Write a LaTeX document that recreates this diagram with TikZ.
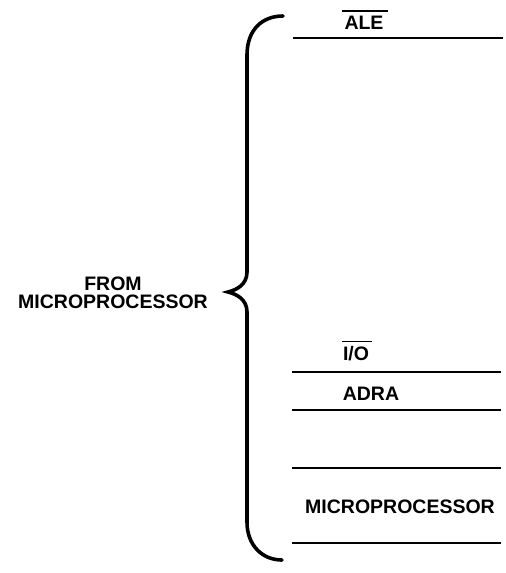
\documentclass[tikz,border=0pt]{standalone}
\usepackage{fontspec}
\setmainfont{Liberation Sans}
\begin{document}
\begin{tikzpicture}[x=1pt,y=-1pt,
  lbl/.style={font=\fontsize{19.5}{23}\selectfont\bfseries, inner sep=0pt, anchor=center},
  sig/.style={line width=1.8pt},
  bar/.style={line width=1.5pt},
  brace/.style={line width=3.6pt, line cap=round}]
\useasboundingbox (0,0) rectangle (506,573);
% brace
\draw[brace] (283,16) .. controls (262,16) and (247,30) .. (247,55) -- (247,272)
  .. controls (247,285) and (236,290) .. (228,292)
  .. controls (236,294) and (247,299) .. (247,312) -- (247,522)
  .. controls (247,545) and (262,560) .. (282,560);
% left label
\node[lbl, align=center, font=\fontsize{19.5}{18}\selectfont\bfseries] (from) at (113,293) {FROM\\MICROPROCESSOR};
% ALE
\node[lbl] (ale) at (364,23) {ALE};
\draw[bar] ([xshift=-2pt,yshift=5pt]ale.north west) -- ([xshift=4pt,yshift=5pt]ale.north east);
\coordinate (a1) at (293,38); \coordinate (a2) at (503,38);
\draw[sig] (a1) -- (a2);
% I/O
\node[lbl] (io) at (356,354) {I/O};
\draw[bar] ([xshift=-1pt,yshift=5pt]io.north west) -- ([xshift=3pt,yshift=5pt]io.north east);
\coordinate (b1) at (292,372); \coordinate (b2) at (501,372);
\draw[sig] (b1) -- (b2);
% ADRA
\node[lbl] (adra) at (371,394) {ADRA};
\coordinate (c1) at (292,410); \coordinate (c2) at (501,410);
\draw[sig] (c1) -- (c2);
\coordinate (d1) at (292,468); \coordinate (d2) at (501,468);
\draw[sig] (d1) -- (d2);
\node[lbl] (mp2) at (400,507) {MICROPROCESSOR};
\coordinate (e1) at (292,543); \coordinate (e2) at (501,543);
\draw[sig] (e1) -- (e2);
\end{tikzpicture}
\end{document}
